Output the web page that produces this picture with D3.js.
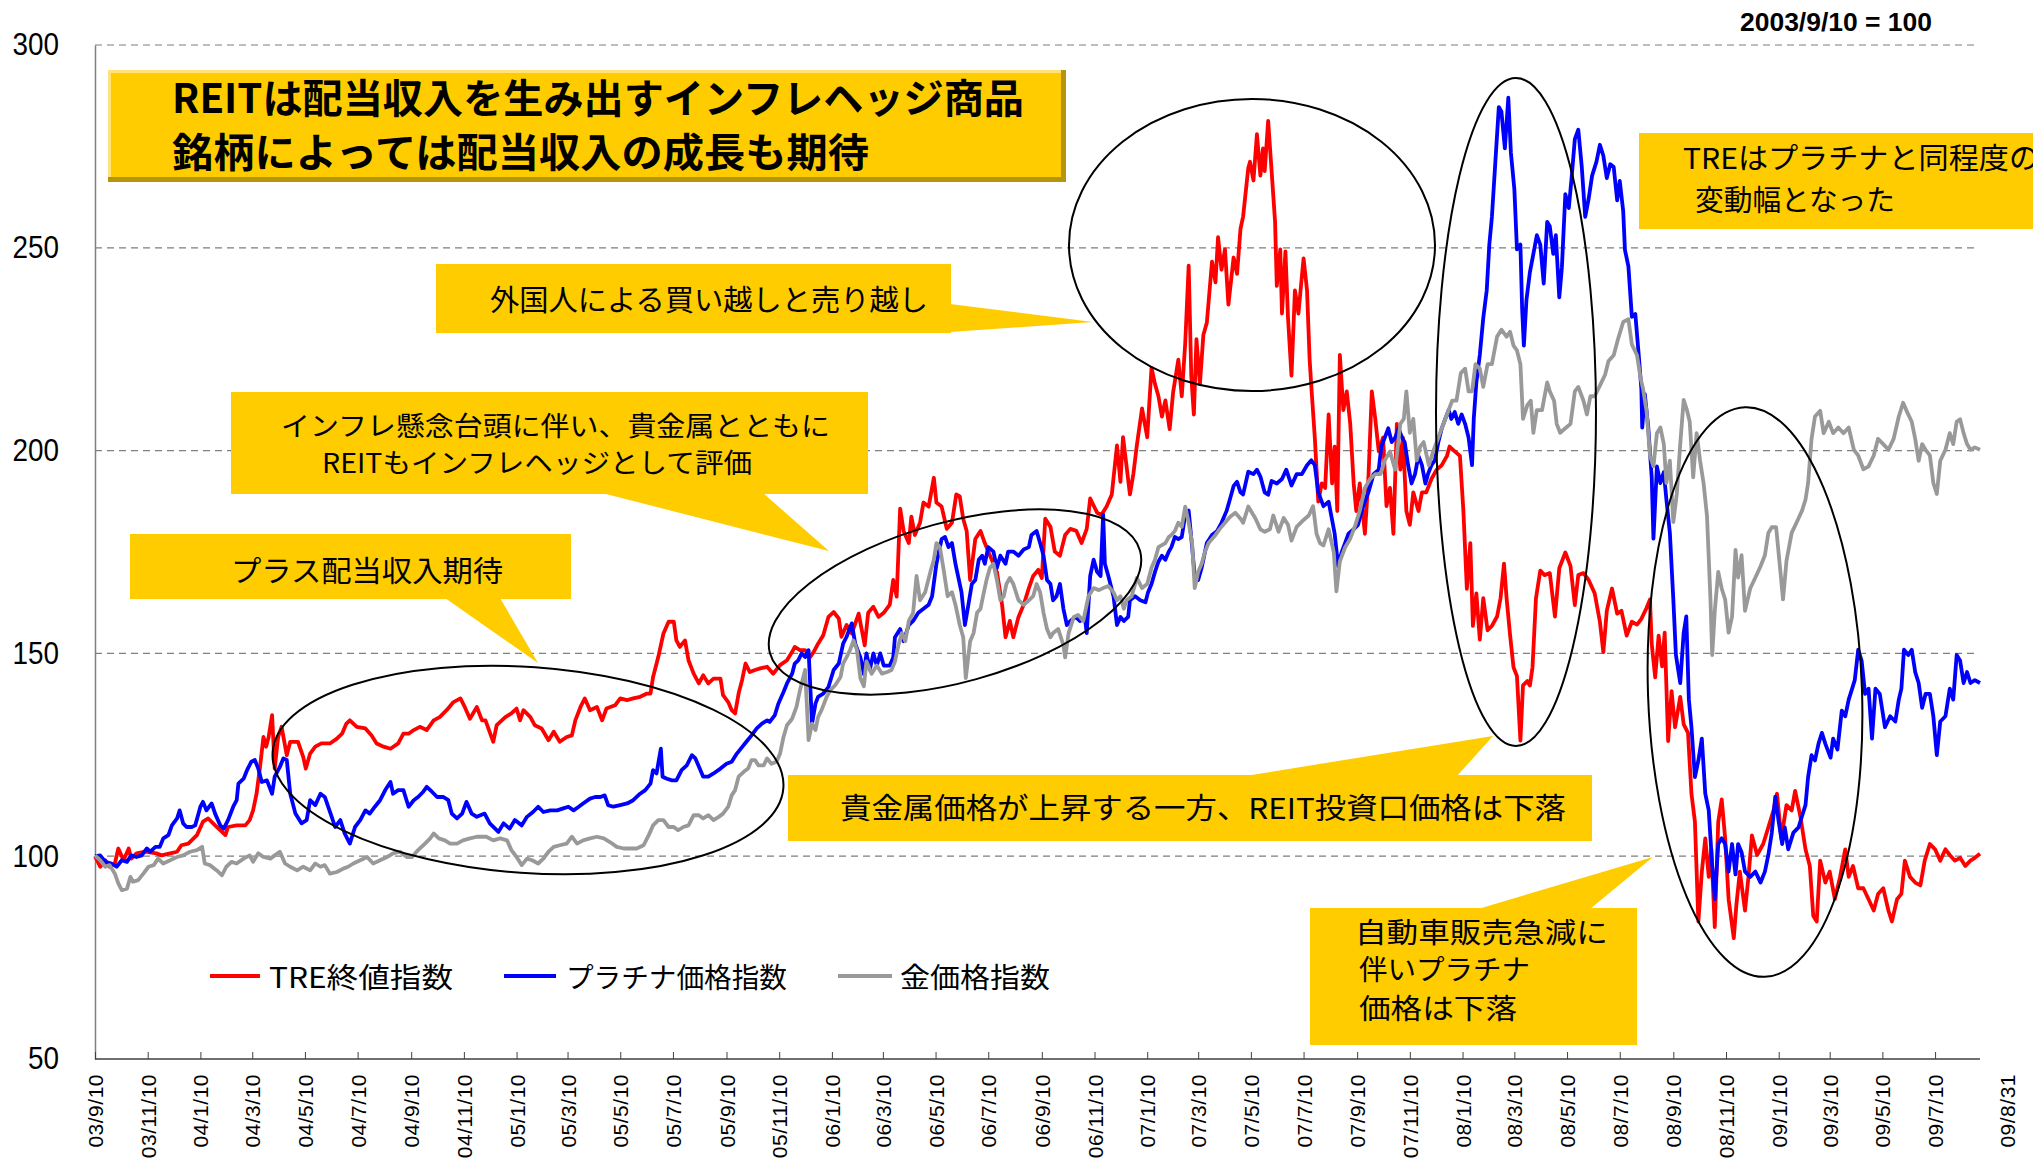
<!DOCTYPE html>
<html>
<head>
<meta charset="utf-8">
<script src="https://cdn.jsdelivr.net/npm/d3@7"></script>
<style>
  body { margin: 0; background: #fff; }
  svg text { font-family: "Noto Sans CJK JP", "Noto Sans", sans-serif; fill: #000; }
  svg .num { font-family: "Liberation Sans", Arial, sans-serif; }
</style>
</head>
<body>
<svg id="chart" width="2033" height="1165"></svg>
<script>
// Index values, 2003/9/10 = 100. Each pair: [days since 2003/9/10, index]
const treIndex = [
  [0,100],[6,97.4],[12,99.0],[17,97.4],[23,98.2],[27,101.9],[33,99.0],[39,101.9],[42,99.4],[48,100.7],[58,101.1],[71,100.7],[77,100.2],[87,100.7],[95,101.1],[100,102.7],[108,103.1],[118,105.2],[125,108.5],[131,109.3],[139,107.6],[147,106.0],[151,105.2],[154,107.2],[164,107.6],[174,107.6],[179,108.9],[183,111.3],[187,115.4],[191,122.0],[195,129.4],[198,127],[201,129.4],[205,134.8],[208,121.6],[212,129.4],[216,131.9],[222,124.9],[226,128.2],[235,128.2],[241,124.5],[244,121.6],[249,125.3],[255,127],[262,127.8],[272,127.8],[280,129],[286,130.2],[291,132.7],[295,133.5],[303,131.9],[313,131.5],[320,129.8],[326,127.8],[334,127],[342,126.5],[351,127.8],[357,130.2],[363,130.2],[369,131.1],[376,131.9],[384,131.1],[392,133.5],[399,134.3],[407,136],[415,138],[423,138.9],[428,136.8],[434,133.9],[442,136.8],[448,133.5],
  [452,133.5],[461,128.2],[465,132.3],[475,134.3],[482,135.2],[488,136.4],[492,133.5],[496,136],[504,134.3],[509,132.3],[517,131.5],[525,128.6],[531,130.7],[538,128.2],[546,129.4],[552,129.8],[556,133.5],[562,136.8],[567,138.9],[573,136],[581,136.8],[587,133.5],[592,136.4],[602,137.2],[608,138.9],[616,138.5],[623,138.9],[631,139.3],[639,140.1],[643,140.1],[646,144.2],[652,149.1],[658,154.9],[664,157.8],[670,157.8],[673,153.2],[677,151.6],[683,153.2],[687,148.3],[693,145],[699,142.6],[704,144.6],[710,142.6],[716,143.8],[724,143.8],[727,139.7],[733,138],[737,136],[741,135.2],[745,140.1],[749,143.4],[753,147.5],[758,145.4],[764,145.9],[770,146.3],[778,146.7],[785,145],[793,147.1],[801,148.3],[807,150.4],[810,151.6],[816,150.8],[822,150.8],[828,149.1],[832,150.4],[837,152.4],[843,154.5],[849,159],[855,160.2],[861,158.6],[864,154.1],[870,157],[876,154.9],[884,159.8],
  [891,152],[895,160],[901,161.5],[907,159],[913,160],[920,162],[924,168.1],[928,164],[932,185.7],[936,180.2],[942,177.2],[945,183.7],[949,179.2],[955,182.2],[959,187.2],[965,186.2],[971,193.3],[974,187.2],[980,186.2],[986,180.7],[992,182.2],[997,189.2],[1001,188.7],[1005,183.2],[1009,180.2],[1013,168.1],[1019,178.2],[1025,180.2],[1030,177.2],[1036,174.1],[1044,170.1],[1050,162],[1054,154],[1059,158],[1063,154],[1069,159],[1075,162],[1081,166.1],[1086,169.1],[1092,170.6],[1096,168.6],[1100,183.2],[1106,181.2],[1111,175.1],[1117,174.1],[1123,179.2],[1129,180.7],[1136,180.2],[1142,177.2],[1148,180.7],[1152,188.2],[1160,184.7],[1165,184.2],[1171,186.2],[1177,189.2],[1183,201.3],[1187,192.3],[1190,203.3],[1194,196.3],[1198,189.2],[1202,194.3],[1206,201.3],[1212,210.4],[1218,203.3],[1223,220.4],[1227,216.4],[1231,213.4],[1235,208.4],[1239,212.4],[1244,205.3],[1248,214.4],[1254,222.4],[1258,213.4],[1262,226.5],[1266,245.6],[1269,218.4],[1272,208.9],[1275,227.5],[1279,216.4],[1283,228.5],[1287,231.5],[1293,246.6],[1297,241.5],[1300,252.6],[1304,244.6],[1308,249.6],[1312,236],[1318,247.6],[1322,243.6],[1326,254.7],[1329,257.7],[1335,269.7],
  [1337,271.2],[1341,266.6],[1345,278],[1349,267.8],[1352,274.5],[1354,268.9],[1358,281.3],[1362,268.9],[1366,256.4],[1368,240.6],[1372,249.6],[1374,233.8],[1378,249.1],[1381,232.7],[1385,218.5],[1389,239.5],[1393,233.8],[1399,247.4],[1403,239.5],[1406,222.5],[1408,215.7],[1412,203.2],[1416,187.4],[1420,191.9],[1424,190.8],[1428,208.9],[1432,191.9],[1435,201],[1438,185.1],[1441,223.6],[1445,210],[1449,214.6],[1453,206.6],[1457,191.9],[1460,185.1],[1464,191.9],[1470,179.5],[1474,193],[1478,214.6],[1482,207.8],[1486,199.8],[1491,203.2],[1495,186.3],[1499,190.8],[1503,179.5],[1507,206.6],[1511,195.3],[1514,203.2],[1518,185.1],[1522,181.7],[1526,189.7],[1532,185.1],[1536,189.7],[1541,189.7],[1547,193],[1553,195.3],[1559,196.4],[1565,198.7],[1568,201],[1574,199.8],[1580,198.7],[1584,185.1],[1588,165.9],[1592,177.2],[1595,156.8],[1599,164.8],[1603,153.4],[1607,163.6],[1612,155.7],[1617,156.8],[1623,159.1],[1627,163.6],[1631,172.1],[1634,163.6],[1638,154.6],[1642,146.6],[1646,144.4],[1650,128.5],[1653,142.1],[1658,143.2],[1661,142.1],[1664,146.6],[1668,163.6],[1673,170.4],[1678,169.3],[1684,169.8],[1690,159.1],[1695,171],[1702,174.9],[1708,171.5],[1713,161.9],[1717,169.3],[1723,169.8],[1729,168.1],[1736,164.8],
  [1742,157.8],[1746,150.3],[1750,160.5],[1756,166],[1762,159.8],[1767,160.5],[1773,154.4],[1779,157.8],[1785,157.1],[1790,158.5],[1796,161.2],[1800,163.3],[1802,152.3],[1806,144.1],[1810,154.4],[1814,146.8],[1817,155.1],[1821,128.4],[1825,140.7],[1829,131.8],[1835,139.3],[1839,132.5],[1844,130.4],[1848,115.4],[1852,108.5],[1856,83.9],[1860,96.2],[1864,104.4],[1868,94.9],[1871,101.7],[1875,82.5],[1879,108.5],[1883,114],[1887,104.4],[1891,89.4],[1897,79.8],[1900,88],[1904,96.2],[1910,86.6],[1914,94.9],[1918,105.1],[1924,100.3],[1931,103],[1937,107.1],[1943,111.3],[1947,115.4],[1952,104.4],[1958,112.6],[1964,111.3],[1968,116.1],[1974,109.9],[1980,101.7],[1985,97.6],[1989,85.3],[1993,83.9],[1997,98.9],[2003,93.5],[2008,96.2],[2014,89.4],[2020,94.9],[2026,101.7],[2030,94.9],[2035,97.6],[2041,92.1],[2047,92.1],[2053,89.4],[2059,86.6],[2064,90.7],[2070,92.1],[2076,86.6],[2080,83.9],[2086,89.4],[2091,90.7],[2095,98.9],[2101,94.9],[2107,93.5],[2113,92.8],[2118,98.9],[2124,103],[2130,101.7],[2136,98.9],[2142,101.7],[2147,100.3],[2153,98.9],[2159,99.6],[2165,97.6],[2171,98.9],[2176,99.6],[2182,100.6]
];

const platinumIndex = [
  [0,100],[6,100.2],[12,98.6],[19,98.2],[25,97.4],[31,99],[37,98.6],[42,100.2],[48,99.8],[54,100.2],[60,101.9],[64,101.1],[70,102.3],[75,102.3],[79,104.4],[85,105.2],[89,107.6],[95,109.3],[98,111.3],[102,108.1],[106,107.2],[112,107.2],[116,107.6],[122,112.2],[125,113.4],[129,111.3],[135,113],[139,110.5],[145,107.6],[149,106.8],[154,108.9],[160,112.2],[164,113.8],[166,117.9],[172,119.1],[176,121.2],[181,123.3],[185,123.7],[189,121.6],[193,118.3],[199,118.7],[205,115.4],[208,119.6],[214,122],[218,124.1],[222,123.7],[226,115.4],[232,110.5],[239,108.1],[245,108.9],[249,113.8],[255,112.6],[261,115.4],[266,114.6],[272,110.9],[278,107.2],[284,108.9],[289,105.6],[295,103.1],[301,107.2],[307,108.9],[313,111.3],[318,110.5],[324,112.2],[330,113.8],[336,116.3],[342,118.3],[345,115.4],[351,116.3],[357,116.3],[363,112.2],[369,113.8],[374,114.6],[380,115.9],[384,117.1],[390,115.9],[396,114.6],[403,114.6],[409,113.8],[413,110.5],[419,109.3],[425,110.5],[430,113.4],[436,110.5],[442,109.7],
  [451,110.5],[457,108.1],[467,106],[473,108.1],[480,106.8],[486,108.9],[494,107.6],[500,109.7],[507,110.9],[513,112.2],[519,110.9],[527,111.3],[535,111.3],[542,111.8],[548,112.2],[554,111.3],[560,112.2],[565,113],[573,114.2],[579,114.6],[585,114.6],[590,115],[594,112.6],[600,112.2],[608,112.6],[616,113],[623,113.8],[631,115.4],[637,116.3],[643,117.9],[646,121.2],[650,120.4],[655,126.5],[657,119.6],[662,119.1],[668,118.7],[673,118.7],[679,121.2],[685,122.4],[691,124.9],[695,124.1],[700,121.6],[704,119.6],[710,119.6],[716,120.4],[724,121.6],[731,122.8],[737,123.3],[743,125.3],[749,126.9],[754,128.2],[760,129.8],[766,131.5],[772,132.7],[778,133.5],[781,133.1],[787,134.8],[791,137.6],[797,140.5],
  [801,142.6],[807,145],[810,147.5],[814,148.3],[818,150],[822,149.1],[826,150.8],[830,132.7],[834,137.6],[837,139.3],[843,140.1],[849,141.7],[855,145.9],[861,147.5],[866,152.4],[870,154.1],[876,157.4],[880,152.4],
  [886,149],[890,144.9],[893,150],[897,146],[901,150],[905,147],[909,150],[913,147],[920,147],[924,149],[926,154],[932,156],[936,153],[942,157],[947,158],[953,160],[959,161],[965,162],[969,164.1],[974,172.1],[980,178.2],[984,178.7],[988,176.2],[992,177.2],[996,172.1],[999,169.1],[1003,165.1],[1007,157],[1011,162],[1015,167.1],[1019,168.1],[1023,173.1],[1027,174.1],[1030,172.1],[1034,176.2],[1040,175.1],[1044,171.1],[1048,174.1],[1054,172.1],[1057,175.1],[1063,175.1],[1069,174.1],[1075,175.6],[1081,176.2],[1084,179.2],[1090,180.2],[1094,177.2],[1098,174.1],[1102,168.1],[1106,167.1],[1109,163.1],[1113,164.1],[1117,167.1],[1121,161],[1125,157],[1129,158],[1135,159],[1140,158],[1146,158.6],[1148,155],[1152,169.1],[1156,173.1],[1160,170.1],[1164,169.1],[1167,184.2],[1169,172.1],[1173,169.1],[1179,164.1],[1183,157],[1187,159],[1191,158],[1196,159],[1198,163.1],[1204,164.1],[1210,163.1],[1216,162.6],[1219,165.1],[1223,167.1],[1227,170.1],[1231,172.6],[1235,174.1],[1239,173.1],[1243,175.1],[1246,176.2],[1250,178.7],[1254,178.2],[1258,178.7],[1262,184.2],[1266,185.2],[1270,176.2],[1273,169.1],[1277,168.1],[1281,171.1],[1287,177.2],[1293,179.2],[1299,180.2],[1304,182.2],[1310,185.2],[1314,188.2],[1318,191.3],[1322,192.3],[1326,189.7],[1329,189.2],[1335,194.8],
  [1341,194.2],[1345,195.3],[1349,193.6],[1354,189.7],[1358,189.1],[1362,192.5],[1368,191.9],[1374,193],[1379,195.3],[1385,191.4],[1391,194.2],[1397,194.2],[1403,196.4],[1408,197.6],[1412,196.4],[1416,189.7],[1422,186.3],[1428,187.4],[1432,182.9],[1435,179.5],[1439,171.5],[1443,174.9],[1447,177.2],[1451,179.5],[1457,180.6],[1462,181.7],[1468,186.3],[1474,189.7],[1480,194.2],[1486,195.3],[1489,201],[1493,203.2],[1497,205.5],[1501,202.1],[1505,203.2],[1509,205.5],[1513,203.2],[1516,202.1],[1520,196.4],[1524,191.9],[1528,194.2],[1532,198.7],[1536,196.4],[1540,191.9],[1543,194.2],[1547,196.4],[1551,197.6],[1555,202.1],[1559,205.5],[1563,207.8],[1567,210],[1570,207.8],[1574,209.5],[1578,206.6],[1582,208.9],[1586,206.6],[1590,203.2],[1594,196.4],[1596,207.8],[1599,216.8],[1603,223.6],[1607,232.7],[1611,239.5],[1614,250.8],[1617,257.6],[1621,271.2],[1625,284.7],[1628,283.6],[1632,274.5],[1636,287],[1639,273.4],[1643,264.4],[1646,249.6],[1650,250.8],[1652,234.9],[1654,225.9],[1657,237.2],[1661,244],[1665,248.5],[1669,253.1],[1673,250.8],[1677,241.2],[1681,256.4],[1684,255.3],[1688,248.5],[1691,253.1],[1695,237.8],[1698,245.1],[1702,263.2],[1706,259.8],[1709,266.6],[1713,276.8],[1717,279.1],[1721,270],[1725,257.6],[1729,262.1],[1733,267.8],[1738,271.2],
  [1742,275.4],[1746,272.7],[1750,267.2],[1754,270.6],[1758,269.9],[1762,261.7],[1765,266.5],[1769,259],[1771,249.5],[1775,245.4],[1779,233],[1783,233.7],[1787,223.5],[1790,215.2],[1791,205.7],[1794,213.9],[1798,205.7],[1802,193.4],[1804,178.3],[1808,196.1],[1812,192],[1816,194.7],[1819,187.9],[1823,179.7],[1827,163.3],[1830,149.6],[1835,142.7],[1839,155.1],[1842,159.1],[1845,138.6],[1848,131.8],[1852,119.5],[1856,123.6],[1860,129],[1864,115.4],[1868,111.3],[1872,97.6],[1875,89.4],[1879,103],[1883,104.4],[1887,103],[1891,96.2],[1895,103],[1899,95.5],[1902,103],[1906,101],[1910,96.2],[1916,94.9],[1922,96.2],[1928,93.5],[1933,96.2],[1937,100.3],[1941,105.8],[1945,114.7],[1949,108.5],[1953,103],[1956,107.1],[1960,101.7],[1966,105.8],[1972,107.1],[1976,109.9],[1980,112.6],[1983,119.5],[1987,124.9],[1991,123.6],[1995,127.7],[1999,130.4],[2003,127.7],[2009,124.3],[2012,129],[2017,126.3],[2022,135.9],[2026,134.5],[2030,138.6],[2034,141.3],[2037,143.4],[2041,150.9],[2045,148.2],[2049,140],[2053,141.3],[2057,129],[2061,141.3],[2066,140],[2072,131.8],[2078,134.5],[2084,133.2],[2088,138.6],[2091,141.3],[2094,150.9],[2099,149.6],[2103,150.9],[2107,145.4],[2111,142.7],[2115,136.6],[2119,140],[2124,140],[2128,134.5],[2132,124.9],[2136,133.2],[2142,134.5],[2147,141.3],[2151,138.6],[2155,149.6],[2159,148.2],[2163,142.7],[2167,145.4],[2171,142.7],[2176,143.4],[2182,142.7]
];

const goldIndex = [
  [0,100.2],[6,99],[12,97.4],[17,97.8],[23,95.7],[27,93.3],[31,91.6],[37,92],[41,94.9],[44,93.7],[50,94.1],[56,95.7],[62,97.4],[68,97.8],[73,99.4],[79,98.2],[87,99],[95,99.8],[102,100.2],[110,101.1],[118,101.5],[124,102.3],[127,98.2],[133,97.8],[141,96.5],[147,95.3],[152,97.4],[158,98.6],[164,98.2],[172,99.4],[179,100.2],[183,98.6],[189,100.7],[195,99.8],[203,99.4],[208,100.2],[214,101.1],[220,98.2],[226,97.4],[234,96.5],[241,97.4],[249,96.5],[255,98.2],[261,97.4],[266,97.8],[272,95.7],[280,96.1],[288,97],[293,97.4],[299,98.2],[307,99],[315,99.8],[322,98.2],[330,99],[338,99.8],[345,100.7],[353,101.1],[361,99.8],[367,99.8],[374,101.5],[382,103.1],[388,104.4],[392,105.6],[398,104.4],[405,103.9],[411,103.1],[419,103.1],[426,103.9],[434,104.4],[442,104.8],
  [453,104.8],[461,103.9],[469,104.4],[477,103.9],[482,101.5],[488,99.8],[494,97.8],[500,99.4],[506,99],[513,98.2],[519,99.4],[525,101.1],[531,102.3],[538,102.7],[546,103.1],[552,104.8],[558,103.1],[565,103.9],[573,104.4],[581,104.8],[589,104.4],[596,103.5],[604,102.3],[612,101.9],[619,101.9],[627,101.9],[635,102.7],[641,105.2],[646,107.6],[652,108.9],[658,108.9],[664,107.2],[670,107.2],[675,106.4],[681,107.2],[687,107.6],[693,110.1],[699,110.1],[704,109.3],[710,110.1],[716,108.9],[722,109.7],[727,110.5],[733,112.2],[737,115],[741,116.3],[745,119.6],[751,120.8],[756,121.6],[760,123.7],[764,123.7],[768,122.4],[774,122.4],[778,124.1],[783,122.8],[789,123.3],[793,125.3],[797,129.4],[801,132.3],[807,133.9],[812,136.8],
  [816,140.9],[822,145.9],[826,128.6],[830,132.7],[834,131.1],[837,134.3],[841,136],[847,139.3],[851,140.9],[857,142.2],[863,144.2],[866,147.5],[870,149.1],[874,150.8],[878,153.2],[882,150.8],
  [886,143.9],[890,141.9],[893,148],[899,145],[905,147],[911,145],[917,145.4],[922,145.9],[926,148],[930,152],[934,155],[938,153],[942,158],[947,160],[951,169.1],[955,163.1],[961,165.1],[967,170.1],[971,173.1],[974,177.2],[978,176.2],[982,171.1],[987,164.1],[992,165.1],[996,162],[1001,157],[1005,154],[1008,143.9],[1013,153],[1017,155],[1021,160],[1025,161],[1028,164.1],[1032,168.1],[1036,171.1],[1040,172.1],[1044,168.1],[1048,163.1],[1052,164.1],[1055,167.1],[1059,168.6],[1063,167.1],[1069,163.1],[1075,162],[1081,163.1],[1086,164.1],[1090,167.1],[1094,165.1],[1098,160],[1102,156],[1106,154],[1109,155],[1115,156],[1121,152],[1123,149],[1127,155],[1133,159],[1138,159.5],[1144,158],[1150,164.1],[1156,166.1],[1162,165.6],[1167,166.1],[1173,166.6],[1179,165.1],[1183,163.1],[1187,164.1],[1191,161],[1194,163.1],[1200,164.1],[1206,168.6],[1212,166.1],[1218,167.1],[1223,171.1],[1227,173.1],[1231,176.2],[1235,176.7],[1239,177.2],[1243,178.7],[1246,179.2],[1250,180.2],[1254,182.2],[1258,181.2],[1262,186.2],[1266,182.2],[1270,177.2],[1273,166.1],[1277,170.1],[1281,172.1],[1285,175.1],[1289,177.2],[1293,178.2],[1297,179.2],[1302,180.7],[1308,182.2],[1314,183.7],[1320,184.7],[1326,183.2],[1329,182.2],[1335,186.2],
  [1343,183.4],[1349,180.6],[1354,180],[1360,180.6],[1364,184],[1370,180],[1376,183.4],[1381,181.7],[1385,177.8],[1391,181.2],[1399,182.9],[1405,184],[1410,186.3],[1414,179.5],[1418,177.2],[1422,176.6],[1428,180.6],[1434,174.9],[1437,165.3],[1441,172.7],[1447,176.1],[1453,178.3],[1459,181.7],[1464,185.1],[1470,190.8],[1476,193],[1482,194.2],[1488,194.2],[1493,197.6],[1499,199.8],[1505,195.3],[1511,206.6],[1515,207.8],[1518,214.6],[1522,204.4],[1526,207.8],[1530,197.6],[1534,201],[1538,202.1],[1544,196.4],[1549,199.8],[1553,202.1],[1559,205.5],[1565,208.9],[1571,212.3],[1576,212.3],[1581,219.1],[1586,220.2],[1590,214.6],[1594,214.6],[1598,221.3],[1603,220.2],[1607,215.7],[1612,221.3],[1617,221.3],[1623,228.1],[1628,229.8],[1634,228.1],[1638,229.3],[1642,225.9],[1646,224.7],[1650,221.3],[1653,207.8],[1658,211.2],[1662,212.3],[1665,204.4],[1669,210],[1675,210],[1681,216.8],[1684,214.6],[1689,212.3],[1692,206.6],[1696,204.4],[1702,205.5],[1708,206.6],[1713,214.6],[1717,215.7],[1723,212.3],[1727,208.9],[1731,213.4],[1736,213.4],
  [1742,216],[1748,218.7],[1752,222.1],[1758,223.5],[1763,227.5],[1769,231.7],[1775,232.4],[1779,226.2],[1785,223.5],[1789,218],[1792,215.2],[1796,209.8],[1800,198.8],[1804,196.1],[1808,204.3],[1812,205.7],[1816,201.6],[1819,192],[1823,197.5],[1827,182.4],[1831,189.3],[1835,201.6],[1839,212.5],[1843,209.8],[1846,207.1],[1850,193.4],[1854,204.3],[1858,197.5],[1862,192],[1866,183.8],[1870,163.3],[1872,149.6],[1875,160.5],[1879,170.1],[1883,166],[1887,163.3],[1891,155.1],[1895,159.1],[1899,175.5],[1902,168.7],[1906,174.2],[1910,160.5],[1916,166],[1922,168.7],[1928,171.5],[1933,174.2],[1937,179.7],[1941,181.1],[1946,181.1],[1951,170.1],[1954,163.3],[1958,172.8],[1964,179.7],[1970,182.4],[1976,185.2],[1980,187.9],[1983,192],[1987,202.9],[1991,208.4],[1997,209.8],[2001,204.3],[2007,207.1],[2012,204.3],[2018,205.7],[2024,204.3],[2030,205.7],[2036,200.2],[2041,198.8],[2047,195.4],[2053,196.1],[2059,198.8],[2064,202.9],[2070,201.6],[2076,200.2],[2082,202.9],[2088,208.4],[2093,211.8],[2097,209.8],[2103,207.1],[2107,202.9],[2111,197.5],[2115,201.6],[2119,200.2],[2124,198.8],[2128,192],[2132,189.3],[2136,197.5],[2142,200.2],[2147,204.3],[2151,201.6],[2155,207.1],[2159,207.7],[2163,204.3],[2167,201.6],[2171,200.2],[2176,200.8],[2182,200.2]
];

const tickLabels = [
  '03/9/10','03/11/10','04/1/10','04/3/10','04/5/10','04/7/10','04/9/10','04/11/10',
  '05/1/10','05/3/10','05/5/10','05/7/10','05/9/10','05/11/10','06/1/10','06/3/10',
  '06/5/10','06/7/10','06/9/10','06/11/10','07/1/10','07/3/10','07/5/10','07/7/10',
  '07/9/10','07/11/10','08/1/10','08/3/10','08/5/10','08/7/10','08/9/10','08/11/10',
  '09/1/10','09/3/10','09/5/10','09/7/10'
];
const endLabel = '09/8/31';
const yTicks = [50, 100, 150, 200, 250, 300];

const seriesNames = ['TRE終値指数', 'プラチナ価格指数', '金価格指数'];
const seriesColors = ['#FF0000', '#0000FF', '#999999'];

// ---- layout ----
const W = 2033, H = 1165;
const MARGIN = { top: 45, right: 53, bottom: 106, left: 95 };
const YELLOW = '#FFCC00';

const parse = d3.timeParse('%y/%m/%d');
const START = parse('03/9/10');
const END = parse(endLabel);

const svg = d3.select('#chart');

const x = d3.scaleTime().domain([START, END]).range([MARGIN.left, W - MARGIN.right]);
const y = d3.scaleLinear().domain([50, 300]).range([H - MARGIN.bottom, MARGIN.top]);

// dashed gridlines
svg.append('g').selectAll('line')
  .data(yTicks.filter(v => v > 50))
  .join('line')
    .attr('x1', MARGIN.left).attr('x2', W - MARGIN.right - 2)
    .attr('y1', d => y(d)).attr('y2', d => y(d))
    .attr('stroke', '#7f7f7f').attr('stroke-width', 1.2)
    .attr('stroke-dasharray', '7,5');

// y axis (tall, slightly condensed numerals)
svg.append('g')
  .attr('transform', `translate(${MARGIN.left},0)`)
  .call(d3.axisLeft(y).tickValues(yTicks).tickSize(0).tickPadding(36))
  .call(g => g.select('.domain').attr('stroke', '#808080').attr('stroke-width', 1.5))
  .call(g => g.selectAll('text')
    .attr('class', 'num').attr('font-size', 31).attr('fill', '#000')
    .attr('textLength', d => String(d).length * 15.5)
    .attr('lengthAdjust', 'spacingAndGlyphs'));

// x axis (ticks point upward, labels rotated)
const tickDates = tickLabels.map(parse);
svg.append('g')
  .attr('transform', `translate(0,${H - MARGIN.bottom})`)
  .call(d3.axisBottom(x).tickValues(tickDates).tickSize(-7).tickFormat((d, i) => tickLabels[i]))
  .call(g => g.select('.domain').attr('stroke', '#404040').attr('stroke-width', 1.5).attr('d', `M${MARGIN.left},0H${W - MARGIN.right}`))
  .call(g => g.selectAll('.tick line').attr('stroke', '#404040'))
  .call(g => g.selectAll('text')
    .attr('class', 'num').attr('font-size', 21).attr('fill', '#000')
    .attr('letter-spacing', 0.5)
    .attr('transform', 'rotate(-90)')
    .attr('text-anchor', 'end')
    .attr('x', -15).attr('y', 0).attr('dy', '0.36em'));

// last date label sits right of the axis end
svg.append('text').attr('class', 'num')
  .attr('transform', `translate(${x(END) + 27},${H - MARGIN.bottom + 15}) rotate(-90)`)
  .attr('text-anchor', 'end').attr('dy', '0.36em')
  .attr('font-size', 21).attr('letter-spacing', 0.5)
  .text(endLabel);

// ---- callout boxes (drawn under the lines) ----
function box(x0, y0, w, h) {
  svg.append('rect').attr('x', x0).attr('y', y0).attr('width', w).attr('height', h).attr('fill', YELLOW);
}
function wedge(points) {
  svg.append('polygon').attr('points', points.map(p => p.join(',')).join(' ')).attr('fill', YELLOW);
}

// title box with bevel edge
svg.append('rect').attr('x', 108).attr('y', 70).attr('width', 958).attr('height', 112).attr('fill', '#B8940A');
svg.append('rect').attr('x', 108).attr('y', 70).attr('width', 953).attr('height', 107).attr('fill', '#FFE27A');
svg.append('rect').attr('x', 111).attr('y', 73).attr('width', 950).attr('height', 104).attr('fill', YELLOW);

box(436, 264, 515, 69);
wedge([[950, 304], [1093, 322], [950, 332]]);

box(231, 392, 637, 102);
wedge([[602, 493], [763, 493], [829, 551]]);

box(130, 534, 441, 65);
wedge([[445, 598], [500, 598], [538, 663]]);

box(788, 775, 804, 66);
wedge([[1245, 776], [1493, 736], [1457, 776]]);

box(1310, 908, 327, 137);
wedge([[1478, 909], [1653, 857], [1590, 909]]);

box(1639, 133, 400, 96);

// ---- series lines ----
const line = d3.line()
  .x(d => x(d3.timeDay.offset(START, d[0])))
  .y(d => y(d[1]));

[treIndex, platinumIndex, goldIndex].forEach((s, i) => {
  svg.append('path')
    .datum(s)
    .attr('fill', 'none')
    .attr('stroke', seriesColors[i])
    .attr('stroke-width', 3.8)
    .attr('stroke-linejoin', 'round')
    .attr('d', line);
});

// ---- ellipses ----
const ellipses = [
  { cx: 528, cy: 770, rx: 256, ry: 103, rot: 4 },
  { cx: 955, cy: 602, rx: 192, ry: 80, rot: -15.5 },
  { cx: 1252, cy: 245, rx: 183, ry: 146, rot: 0 },
  { cx: 1516, cy: 412, rx: 80, ry: 334, rot: 0 },
  { cx: 1755, cy: 692, rx: 107, ry: 285, rot: -2 }
];
svg.append('g').selectAll('ellipse').data(ellipses).join('ellipse')
  .attr('cx', 0).attr('cy', 0)
  .attr('rx', d => d.rx).attr('ry', d => d.ry)
  .attr('transform', d => `translate(${d.cx},${d.cy}) rotate(${d.rot})`)
  .attr('fill', 'none').attr('stroke', '#000').attr('stroke-width', 2);

// ---- texts ----
function label(txt, x0, yc, size, opts = {}) {
  const t = svg.append('text')
    .attr('x', x0).attr('y', yc)
    .attr('dominant-baseline', 'central')
    .attr('font-size', size)
    .text(txt);
  if (opts.bold) t.attr('font-weight', 'bold');
  if (opts.len) t.attr('textLength', opts.len).attr('lengthAdjust', 'spacingAndGlyphs');
  if (opts.cls) t.attr('class', opts.cls);
  return t;
}

label('REITは配当収入を生み出すインフレヘッジ商品', 172, 96, 40, { bold: true, len: 852 });
label('銘柄によっては配当収入の成長も期待', 172, 150, 40, { bold: true, len: 697 });

label('2003/9/10 = 100', 1740, 22, 25, { bold: true, cls: 'num', len: 192 });

label('TREはプラチナと同程度の', 1683, 156, 29, { len: 356 });
label('変動幅となった', 1695, 198, 29, { len: 200 });

label('外国人による買い越しと売り越し', 490, 298, 29, { len: 438 });
label('インフレ懸念台頭に伴い、貴金属とともに', 281, 424, 27, { len: 549 });
label('REITもインフレヘッジとして評価', 322, 461, 27, { len: 430 });
label('プラス配当収入期待', 231, 569, 29, { len: 272 });
label('貴金属価格が上昇する一方、REIT投資口価格は下落', 840, 806, 29, { len: 726 });
label('自動車販売急減に', 1355, 931, 28, { len: 253 });
label('伴いプラチナ', 1359, 968, 28, { len: 171 });
label('価格は下落', 1359, 1007, 28, { len: 158 });

// ---- legend ----
const legendItems = [
  { x1: 210, x2: 260, tx: 269, len: 184 },
  { x1: 504, x2: 556, tx: 566, len: 221 },
  { x1: 838, x2: 892, tx: 900, len: 150 }
];
legendItems.forEach((it, i) => {
  svg.append('line')
    .attr('x1', it.x1).attr('x2', it.x2).attr('y1', 976).attr('y2', 976)
    .attr('stroke', seriesColors[i]).attr('stroke-width', 4);
  label(seriesNames[i], it.tx, 976, 28, { len: it.len });
});
</script>
</body>
</html>
